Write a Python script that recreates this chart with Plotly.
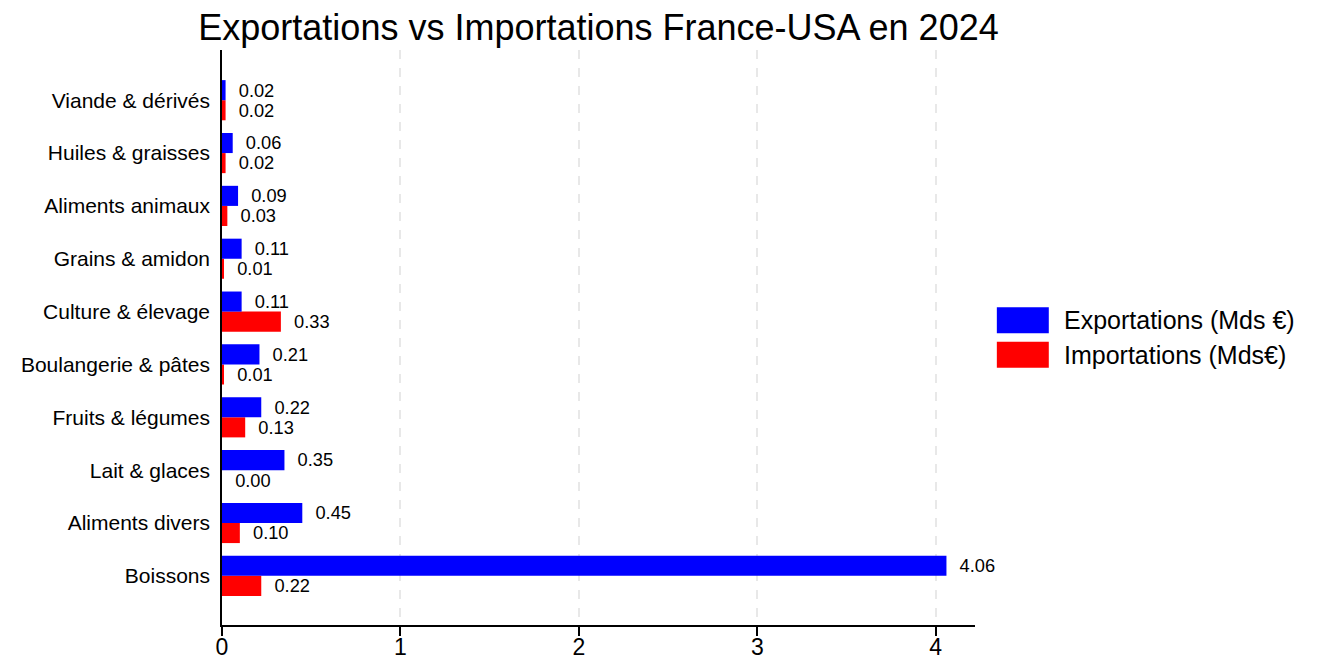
import plotly.graph_objects as go

# Data (Mds €), bottom to top
categories = ["Boissons", "Aliments divers", "Lait & glaces", "Fruits & légumes",
              "Boulangerie & pâtes", "Culture & élevage", "Grains & amidon",
              "Aliments animaux", "Huiles & graisses", "Viande & dérivés"]
exports = [4.06, 0.45, 0.35, 0.22, 0.21, 0.11, 0.11, 0.09, 0.06, 0.02]
imports = [0.22, 0.10, 0.00, 0.13, 0.01, 0.33, 0.01, 0.03, 0.02, 0.02]
x_ticks = [0, 1, 2, 3, 4]

FONT = "Arial, Liberation Sans, sans-serif"
PAD = "\u00a0\u00a0"

fig = go.Figure()

# imports first so exports sit on top inside each group
fig.add_trace(go.Bar(
    y=categories, x=imports, orientation="h", name="Importations (Mds€)",
    marker=dict(color="#ff0000", line=dict(width=0)),
    text=[PAD + f"{v:.2f}" for v in imports], textposition="outside",
    textfont=dict(size=20, color="black", family=FONT),
    cliponaxis=False, showlegend=False
))
fig.add_trace(go.Bar(
    y=categories, x=exports, orientation="h", name="Exportations (Mds €)",
    marker=dict(color="#0000ff", line=dict(width=0)),
    text=[PAD + f"{v:.2f}" for v in exports], textposition="outside",
    textfont=dict(size=20, color="black", family=FONT),
    cliponaxis=False, showlegend=False
))

fig.update_layout(
    width=1320, height=662,
    barmode="group", bargap=0.24, bargroupgap=0,
    plot_bgcolor="white", paper_bgcolor="white",
    font=dict(family=FONT, color="black"),
    margin=dict(l=222, r=345, t=50, b=37),
    title=dict(text="Exportations vs Importations France-USA en 2024",
               x=0.5, xref="paper", xanchor="center",
               y=0.958, yref="container", yanchor="middle",
               font=dict(size=36, family=FONT, color="black")),
)

fig.update_xaxes(
    range=[0, 4.22], tickvals=x_ticks, showgrid=True,
    gridcolor="#e8e8e8", gridwidth=2, griddash="dash",
    showline=True, linecolor="black", linewidth=1.5,
    ticks="outside", ticklen=9, tickcolor="black", tickwidth=1.5,
    tickfont=dict(size=23), zeroline=False, automargin=False,
    ticklabelstandoff=-8
)
fig.update_yaxes(
    range=[-0.93, 9.95], showgrid=False,
    showline=True, linecolor="black", linewidth=1.5,
    ticks="", tickfont=dict(size=21), automargin=False,
    ticklabelstandoff=6
)

# manual legend with large swatches
legend_items = [("Exportations (Mds €)", "#0000ff", 0.53),
                ("Importations (Mds€)", "#ff0000", 0.47)]
for label, color, yc in legend_items:
    fig.add_shape(type="rect", xref="paper", yref="paper",
                  x0=1.029, x1=1.098, y0=yc - 0.0225, y1=yc + 0.0225,
                  fillcolor=color, line=dict(width=0))
    fig.add_annotation(x=1.115, y=yc, xref="paper", yref="paper",
                       text=label, showarrow=False, xanchor="left",
                       yanchor="middle", font=dict(size=25, color="black"))

fig.write_html("out.html", config={"displayModeBar": False},
               post_script="document.body.style.margin='0';")
